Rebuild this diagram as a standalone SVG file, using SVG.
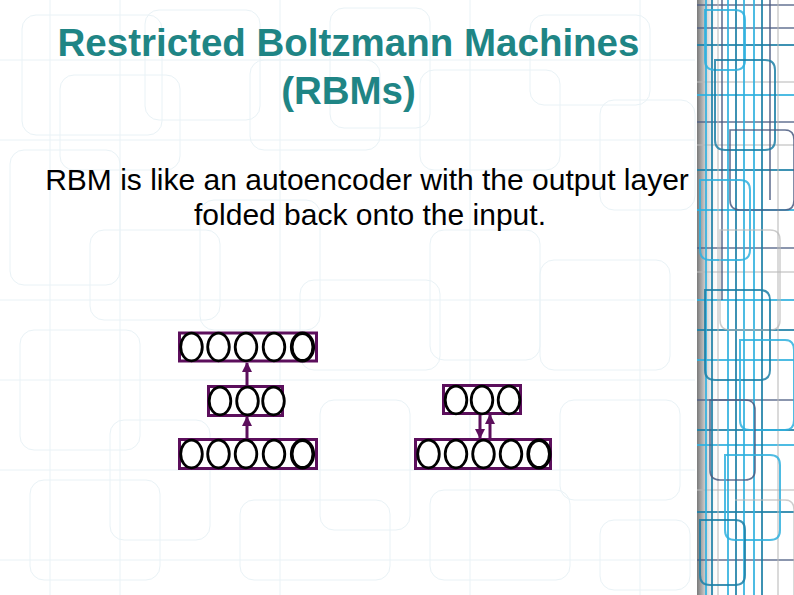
<svg xmlns="http://www.w3.org/2000/svg" width="794" height="595" viewBox="0 0 794 595">
<style>
.bg{fill:none;stroke:#e9f2f6;stroke-width:1}
.bl{fill:none;stroke:#2fb0de;stroke-width:2;opacity:0.85}
.bd{fill:none;stroke:#1c7fa6;stroke-width:2;opacity:0.85}
.bs{fill:none;stroke:#4a5a80;stroke-width:1.6;opacity:0.85}
.bg2{fill:none;stroke:#b8b8b8;stroke-width:1.5;opacity:0.7}
.box{fill:#ffffff;stroke:#5c0f5c;stroke-width:3}
.unit{fill:#ffffff;stroke:#000000;stroke-width:2.8}
.unitL{fill:#ffffff;stroke:#000000;stroke-width:3.6}
.edge{stroke:#5c0f5c;stroke-width:3;fill:none}
.title{font-family:"Liberation Sans",Arial,sans-serif;font-weight:bold;font-size:38.5px;fill:#1f8585;text-anchor:middle}
.body{font-family:"Liberation Sans",Arial,sans-serif;font-size:30px;fill:#000000;text-anchor:middle}
</style>
<defs>
<linearGradient id="shade" x1="0" y1="0" x2="1" y2="0">
<stop offset="0" stop-color="#7a7a7a"/>
<stop offset="0.35" stop-color="#c8c8c8"/>
<stop offset="1" stop-color="#ffffff" stop-opacity="0"/>
</linearGradient>
<marker id="ah" markerUnits="userSpaceOnUse" markerWidth="10" markerHeight="10" viewBox="0 0 10 10" refX="9" refY="5" orient="auto">
<path d="M0,0 L10,5 L0,10 Z" fill="#5c0f5c"/>
</marker>
</defs>
<rect width="794" height="595" fill="#ffffff"/>
<g id="background">
<rect class="bg" x="22" y="15" width="140" height="120" rx="14"/>
<rect class="bg" x="60" y="75" width="120" height="95" rx="14"/>
<rect class="bg" x="145" y="10" width="115" height="110" rx="14"/>
<rect class="bg" x="250" y="60" width="130" height="90" rx="14"/>
<rect class="bg" x="330" y="8" width="100" height="120" rx="14"/>
<rect class="bg" x="420" y="70" width="140" height="100" rx="14"/>
<rect class="bg" x="530" y="15" width="120" height="90" rx="14"/>
<rect class="bg" x="600" y="100" width="95" height="110" rx="14"/>
<rect class="bg" x="10" y="150" width="110" height="135" rx="14"/>
<rect class="bg" x="90" y="230" width="130" height="90" rx="14"/>
<rect class="bg" x="200" y="200" width="120" height="130" rx="14"/>
<rect class="bg" x="300" y="280" width="140" height="90" rx="14"/>
<rect class="bg" x="430" y="230" width="110" height="130" rx="14"/>
<rect class="bg" x="540" y="260" width="130" height="110" rx="14"/>
<rect class="bg" x="20" y="330" width="120" height="120" rx="14"/>
<rect class="bg" x="110" y="420" width="100" height="120" rx="14"/>
<rect class="bg" x="320" y="400" width="90" height="130" rx="14"/>
<rect class="bg" x="560" y="400" width="120" height="100" rx="14"/>
<rect class="bg" x="30" y="480" width="130" height="100" rx="14"/>
<rect class="bg" x="240" y="500" width="150" height="80" rx="14"/>
<rect class="bg" x="430" y="490" width="140" height="90" rx="14"/>
<rect class="bg" x="600" y="520" width="90" height="70" rx="14"/>
<path class="bg" d="M0,60H695M0,140H695M0,300H695M0,380H695M0,470H695M0,560H695M50,0V595M120,0V595M280,0V595M470,0V595M640,0V595"/>
</g>
<g id="side-decoration">
<rect x="697" y="0" width="22" height="595" fill="url(#shade)"/>
<path class="bs" d="M697,5H794M697,28H794M697,122H794M697,248H794M697,400H794M697,560H794"/>
<path class="bd" d="M697,45H794M697,170H794M697,330H794M697,430H794M697,512H794"/>
<path class="bl" d="M697,95H794M697,210H794M697,300H794M697,360H794M697,445H794"/>
<path class="bg2" d="M697,82H794M697,145H794M697,272H794M697,490H794"/>
<path class="bl" d="M706,0V595M728,0V595M744,0V595M754,0V595"/>
<path class="bd" d="M712,0V595M736,0V595M762,0V595"/>
<path class="bs" d="M722,0V300M770,0V200"/>
<path class="bg2" d="M718,0V595M778,0V595"/>
<path class="bl" d="M705,10H735Q745,10 745,20V60Q745,70 735,70H715Q705,70 705,60Z"/>
<path class="bd" d="M715,60H765Q775,60 775,70V140Q775,150 765,150H725Q715,150 715,140Z"/>
<path class="bs" d="M730,130H785Q794,130 794,140V200Q794,210 785,210H740Q730,210 730,200Z"/>
<path class="bl" d="M700,180H740Q750,180 750,190V250Q750,260 740,260H710Q700,260 700,250Z"/>
<path class="bg2" d="M720,230H770Q780,230 780,240V320Q780,330 770,330H730Q720,330 720,320Z"/>
<path class="bd" d="M705,290H760Q770,290 770,300V370Q770,380 760,380H715Q705,380 705,370Z"/>
<path class="bl" d="M740,340H785Q794,340 794,350V420Q794,430 785,430H750Q740,430 740,420Z"/>
<path class="bs" d="M710,400H745Q755,400 755,410V470Q755,480 745,480H720Q710,480 710,470Z"/>
<path class="bl" d="M725,455H770Q780,455 780,465V530Q780,540 770,540H735Q725,540 725,530Z"/>
<path class="bd" d="M700,520H735Q745,520 745,530V575Q745,585 735,585H710Q700,585 700,575Z"/>
<path class="bg2" d="M735,500H785Q794,500 794,510V595"/>
</g>
<g id="title">
<text class="title" x="348.5" y="56">Restricted Boltzmann Machines</text>
<text class="title" x="348.5" y="104">(RBMs)</text>
</g>
<g id="body-text">
<text class="body" x="367" y="190">RBM is like an autoencoder with the output layer</text>
<text class="body" x="370" y="225">folded back onto the input.</text>
</g>
<g id="connectors">
<line class="edge" x1="247" y1="385" x2="247" y2="363" marker-end="url(#ah)"/>
<line class="edge" x1="247" y1="438" x2="247" y2="417" marker-end="url(#ah)"/>
<line class="edge" x1="480" y1="415" x2="480" y2="438" marker-end="url(#ah)"/>
<line class="edge" x1="490" y1="438" x2="490" y2="415" marker-end="url(#ah)"/>
</g>
<g id="ae-output">
<rect class="box" x="179.5" y="333" width="137" height="28"/>
<ellipse class="unit" cx="191.5" cy="347" rx="10.8" ry="13.8"/>
<ellipse class="unit" cx="218.5" cy="347" rx="10.8" ry="13.8"/>
<ellipse class="unit" cx="246" cy="347" rx="10.8" ry="13.8"/>
<ellipse class="unit" cx="274" cy="347" rx="10.8" ry="13.8"/>
<ellipse class="unitL" cx="302.5" cy="347" rx="10.8" ry="13.8"/>
</g>
<g id="ae-hidden">
<rect class="box" x="208.5" y="386.5" width="74" height="29"/>
<ellipse class="unit" cx="220" cy="401" rx="10.8" ry="13.8"/>
<ellipse class="unit" cx="247.5" cy="401" rx="10.8" ry="13.8"/>
<ellipse class="unit" cx="273.5" cy="401" rx="10.8" ry="13.8"/>
</g>
<g id="ae-input">
<rect class="box" x="179.5" y="439.5" width="137" height="29"/>
<ellipse class="unit" cx="191.5" cy="454" rx="10.8" ry="13.8"/>
<ellipse class="unit" cx="218.5" cy="454" rx="10.8" ry="13.8"/>
<ellipse class="unit" cx="246" cy="454" rx="10.8" ry="13.8"/>
<ellipse class="unit" cx="274" cy="454" rx="10.8" ry="13.8"/>
<ellipse class="unitL" cx="302.5" cy="454" rx="10.8" ry="13.8"/>
</g>
<g id="rbm-hidden">
<rect class="box" x="443.5" y="385.5" width="77" height="28"/>
<ellipse class="unit" cx="456" cy="400" rx="10.8" ry="13.8"/>
<ellipse class="unit" cx="482" cy="400" rx="10.8" ry="13.8"/>
<ellipse class="unit" cx="509" cy="400" rx="10.8" ry="13.8"/>
</g>
<g id="rbm-visible">
<rect class="box" x="415.5" y="439.5" width="135" height="29"/>
<ellipse class="unit" cx="428.5" cy="454" rx="10.8" ry="13.8"/>
<ellipse class="unit" cx="456" cy="454" rx="10.8" ry="13.8"/>
<ellipse class="unit" cx="483.5" cy="454" rx="10.8" ry="13.8"/>
<ellipse class="unit" cx="511" cy="454" rx="10.8" ry="13.8"/>
<ellipse class="unitL" cx="539" cy="454" rx="10.8" ry="13.8"/>
</g>
</svg>
